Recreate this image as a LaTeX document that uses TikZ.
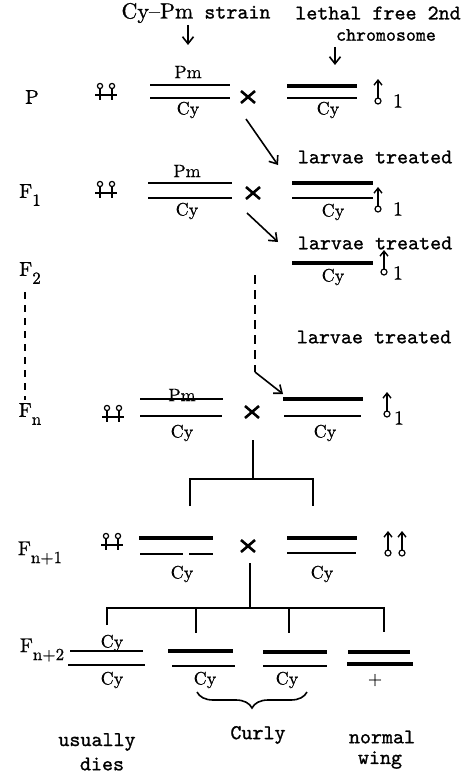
\documentclass[tikz,border=0pt]{standalone}
\usepackage{fontspec}
\newfontfamily\tyw{lmmono10-regular.otf}[FakeBold=1.0]
\newfontfamily\rmw{lmroman10-regular.otf}[FakeBold=0.8]
\usetikzlibrary{arrows.meta,decorations.pathreplacing}
\tikzset{
  mono/.style={font=\fontsize{21}{24}\selectfont\tyw, inner sep=0pt},
  rom/.style={font=\fontsize{18}{20}\selectfont\rmw, inner sep=0pt},
  gen/.style={font=\fontsize{20}{22}\selectfont\rmw, inner sep=0pt},
  chrthin/.style={line width=1.8pt},
  chrthick/.style={line width=3.4pt},
  arr/.style={line width=1.6pt, -{Straight Barb[length=7pt,width=11pt,line width=1.6pt]}},
  link/.style={line width=1.8pt},
  females/.pic={
    \draw[line width=1.2pt] (-6,-6) circle (2.6) (6,-6) circle (2.6);
    \draw[line width=1.6pt] (-6,-3.4) -- (-6,8) (6,-3.4) -- (6,8) (-11,3) -- (11,3);
  },
  malesym/.pic={
    \draw[line width=1.2pt] (0,9) circle (3);
    \draw[line width=1.4pt, -{Straight Barb[length=5pt,width=8pt,line width=1.4pt]}] (0,6) -- (0,-13);
  },
  crossx/.pic={
    \draw[line width=2.6pt] (-7,-6) -- (7,6) (-7,6) -- (7,-6);
  }
}
\newcommand{\gensub}[2]{F\raisebox{-0.4em}{\fontsize{17}{18}\selectfont #2}}
\begin{document}
\begin{tikzpicture}[x=1pt,y=-1pt]
\useasboundingbox (0,0) rectangle (466,776);

% ---- top labels
\node[mono] (cypm) at (196,13) {{\rmw\fontsize{22}{23}\selectfont Cy–Pm} strain};
\node[mono] (lethal) at (378,13) {lethal free 2nd};
\node[mono, font=\fontsize{19}{22}\selectfont\tyw] (chrom) at (386,35) {chromosome};
\coordinate (a1s) at (188,25); \coordinate (a1e) at (188,45);
\coordinate (a2s) at (335,47); \coordinate (a2e) at (335,65);
\draw[arr] (a1s) -- (a1e);
\draw[arr] (a2s) -- (a2e);

% ---- P row
\node[gen] (gP) at (32,97) {P};
\pic (fP) at (106,92) {females};
\node[rom] (pmP) at (188,72) {Pm};
\draw[chrthin] (150,85) -- (230,85);
\draw[chrthin] (150,98) -- (230,98);
\node[rom] (cyP) at (188,110) {Cy};
\pic (xP) at (248,97) {crossx};
\draw[chrthick] (287,86) -- (357,86);
\draw[chrthin] (287,98) -- (357,98);
\node[rom] (cyP2) at (328,110) {Cy};
\pic (mP) at (378,92) {malesym};
\node[gen] (oneP) at (398,101) {1};

% arrow P -> treated
\coordinate (ar1s) at (246,119); \coordinate (ar1e) at (278,165);
\draw[arr] (ar1s) -- (ar1e);
\node[mono] (lt1) at (375,157) {larvae treated};

% ---- F1 row
\node[gen] (gF1) at (30,195) {\gensub{F}{1}};
\pic (fF1) at (106,190) {females};
\node[rom] (pmF1) at (187,171) {Pm};
\draw[chrthin] (148,183) -- (232,183);
\draw[chrthin] (148,198) -- (232,198);
\node[rom] (cyF1) at (187,211) {Cy};
\pic (xF1) at (253,193) {crossx};
\draw[chrthick] (292,183) -- (373,183);
\draw[chrthin] (292,198) -- (373,198);
\node[rom] (cyF1b) at (333,212) {Cy};
\pic (mF1) at (378,200) {malesym};
\node[gen] (oneF1) at (398,209) {1};

\coordinate (ar2s) at (247,213); \coordinate (ar2e) at (278,242);
\draw[arr] (ar2s) -- (ar2e);
\node[mono] (lt2) at (375,243) {larvae treated};
\draw[chrthick] (292,263) -- (373,263);
\node[rom] (cyT2) at (333,277) {Cy};
\pic (mT2) at (384,263) {malesym};
\node[gen] (oneT2) at (398,273) {1};

% ---- F2
\node[gen] (gF2) at (30,273) {\gensub{F}{2}};
\coordinate (dl1) at (25,292); \coordinate (dl2) at (25,400);
\draw[link, dash pattern=on 7pt off 6pt] (dl1) -- (dl2);
\coordinate (dc1) at (255,275); \coordinate (dc2) at (255,372);
\coordinate (ar3e) at (283,394);
\draw[link, dash pattern=on 9pt off 6pt] (dc1) -- (dc2);
\draw[arr] (dc2) -- (ar3e);
\node[mono] (lt3) at (374,337) {larvae treated};

% ---- Fn row
\node[gen] (gFn) at (30,414) {\gensub{F}{n}};
\pic (fFn) at (113,414) {females};
\node[rom] (pmFn) at (182,395) {Pm};
\draw[chrthin] (140,399) -- (223,399);
\draw[chrthin] (140,416) -- (222,416);
\node[rom] (cyFn) at (182,433) {Cy};
\pic (xFn) at (252,412) {crossx};
\draw[chrthick] (283,399) -- (363,399);
\draw[chrthin] (284,416) -- (361,416);
\node[rom] (cyFnb) at (325,433) {Cy};
\pic (mFn) at (387,405) {malesym};
\node[gen] (oneFn) at (399,418) {1};

% cross Fn -> Fn+1
\coordinate (vn1) at (253,440); \coordinate (vn2) at (253,479);
\coordinate (bl) at (190,479); \coordinate (br) at (313,479);
\coordinate (blb) at (190,506); \coordinate (brb) at (313,506);
\draw[link] (vn1) -- (vn2);
\draw[link] (blb) -- (bl) -- (br) -- (brb);

% ---- Fn+1 row
\node[gen] (gFn1) at (40,553) {\gensub{F}{n+1}};
\pic (fFn1) at (112,542) {females};
\draw[chrthick] (139,538) -- (213,538);
\draw[chrthin] (140,554) -- (183,554);
\draw[chrthin] (189,554) -- (213,554);
\node[rom] (cyFn1) at (182,574) {Cy};
\pic (xFn1) at (248,546) {crossx};
\draw[chrthick] (287,538) -- (357,538);
\draw[chrthin] (287,553) -- (356,553);
\node[rom] (cyFn1b) at (322,574) {Cy};
\pic (mFn1a) at (388,544) {malesym};
\pic (mFn1b) at (402,544) {malesym};

% cross Fn+1 -> Fn+2
\coordinate (vm1) at (250,563); \coordinate (vm2) at (250,608);
\coordinate (h1) at (107,608); \coordinate (h4) at (384,608);
\coordinate (h2) at (196,608); \coordinate (h3) at (289,608);
\coordinate (h1b) at (107,625); \coordinate (h2b) at (196,633);
\coordinate (h3b) at (289,633); \coordinate (h4b) at (384,632);
\draw[link] (vm1) -- (vm2);
\draw[link] (h1b) -- (h1) -- (h4) -- (h4b);
\draw[link] (h2) -- (h2b);
\draw[link] (h3) -- (h3b);

% ---- Fn+2 row
\node[gen] (gFn2) at (42,650) {\gensub{F}{n+2}};
\draw[chrthin] (70,651) -- (143,651);
\node[rom] (cyA1) at (112,643) {Cy};
\draw[chrthin] (68,665) -- (145,665);
\node[rom] (cyA2) at (112,680) {Cy};
\draw[chrthick] (168,651) -- (233,651);
\draw[chrthin] (172,666) -- (235,666);
\node[rom] (cyB) at (205,680) {Cy};
\draw[chrthick] (263,652) -- (327,652);
\draw[chrthin] (263,666) -- (327,666);
\node[rom] (cyC) at (287,680) {Cy};
\draw[chrthick] (348,652) -- (410,652);
\draw[chrthick] (347,664) -- (413,664);
\node[rom] (plus) at (375,680) {+};

\coordinate (br1) at (197,692); \coordinate (br2) at (307,692);
\draw[line width=1.6pt, decorate, decoration={brace, mirror, amplitude=16pt}] (br1) -- (br2);

\node[mono] (usually) at (97,742) {usually};
\node[mono] (dies) at (102,764) {dies};
\node[mono] (curly) at (258,735) {Curly};
\node[mono] (normal) at (382,737) {normal};
\node[mono] (wing) at (380,760) {wing};
\end{tikzpicture}
\end{document}
